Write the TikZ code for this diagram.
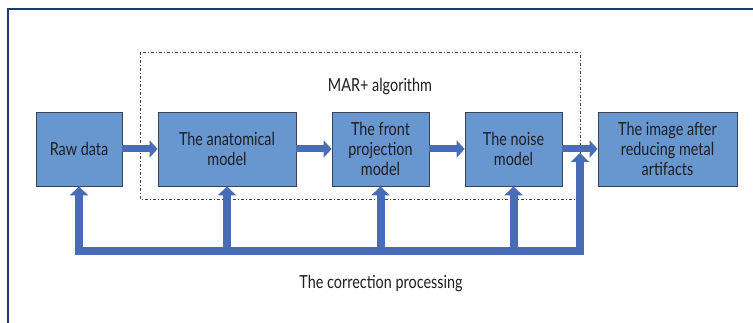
\documentclass[tikz,border=0pt]{standalone}
\usepackage{fontspec}
\setmainfont[FakeStretch=0.8]{Lato}
\usetikzlibrary{arrows.meta}
\definecolor{boxfill}{RGB}{104,150,206}
\definecolor{boxline}{RGB}{58,66,90}
\definecolor{arrowblue}{RGB}{72,108,182}
\definecolor{framecol}{RGB}{30,58,110}
\definecolor{txt}{RGB}{30,30,35}
\tikzset{
  stepbox/.style={draw=boxline, line width=0.8pt, fill=boxfill, text=txt, align=center,
    font=\fontsize{18}{20}\selectfont, inner sep=0pt},
  flow/.style={draw=arrowblue, line width=7pt, -{Triangle[width=17pt,length=8pt]}},
  fb/.style={draw=arrowblue, line width=8pt},
  fbarrow/.style={fb, -{Triangle[width=18pt,length=9pt]}},
  mar/.style={draw=black!75, line width=0.7pt, dash pattern=on 3pt off 2pt on 1pt off 2pt}
}
\begin{document}
\begin{tikzpicture}[x=1pt,y=-1pt]
\useasboundingbox (0,0) rectangle (753,323);
\fill[white] (0,0) rectangle (753,323);
% frame
\draw[framecol, line width=1.2pt] (8,323) -- (8,9) -- (753,9);
% MAR+ box
\draw[mar] (140,52) rectangle (580,199);
\node[text=txt, font=\fontsize{18}{20}\selectfont] (martitle) at (380,87) {MAR+ algorithm};
% boxes
\node[stepbox, minimum width=86pt, minimum height=74pt] (raw) at (79,149) {Raw data};
\node[stepbox, minimum width=138pt, minimum height=74pt] (anat) at (227,149) {The anatomical\\model};
\node[stepbox, minimum width=97pt, minimum height=74pt] (front) at (380.5,149) {The front\\projection\\model};
\node[stepbox, minimum width=97pt, minimum height=74pt] (noise) at (513.5,149) {The noise\\model};
\node[stepbox, minimum width=139pt, minimum height=74pt] (image) at (667.5,149) {The image after\\reducing metal\\artifacts};
% forward arrows
\draw[flow] (raw.east) -- (anat.west);
\draw[flow] (anat.east) -- (front.west);
\draw[flow] (front.east) -- (noise.west);
\draw[flow] (noise.east) -- (image.west);
% feedback
\coordinate (bl) at (79,251);
\coordinate (br) at (580,251);
\coordinate (tip) at (580,153);
\draw[fb, {Triangle[width=18pt,length=9pt]}-{Triangle[width=18pt,length=9pt]}, line join=miter]
  (raw.south) -- (bl) -- (br) -- (tip);
\draw[fbarrow] (anat.south |- bl) -- (anat.south);
\draw[fbarrow] (front.south |- bl) -- (front.south);
\draw[fbarrow] (noise.south |- bl) -- (noise.south);
% caption
\node[text=txt, font=\fontsize{18}{20}\selectfont] (corr) at (381,284) {The correction processing};
\end{tikzpicture}
\end{document}
